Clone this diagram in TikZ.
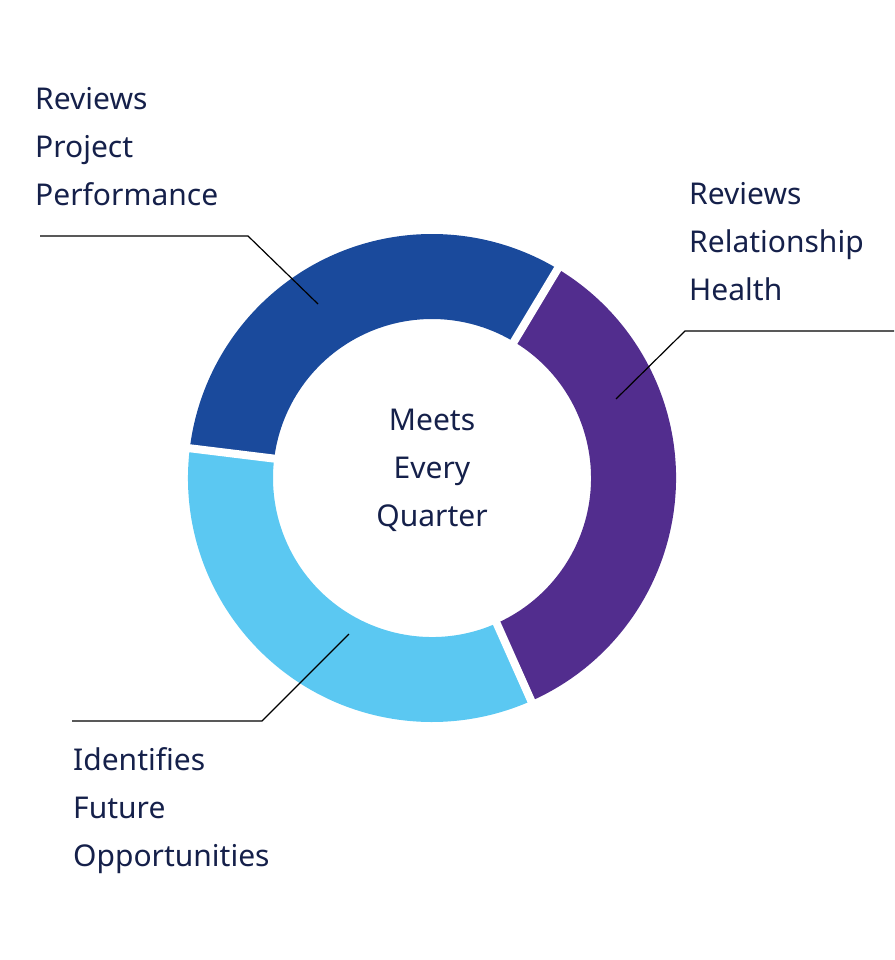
\documentclass[tikz,border=0pt]{standalone}
\usepackage{fontspec}
\setmainfont{Noto Sans}
\usetikzlibrary{calc}
\definecolor{txt}{HTML}{15204A}
\definecolor{dblue}{HTML}{1A4A9C}
\definecolor{purp}{HTML}{522D8E}
\definecolor{lblue}{HTML}{5BC8F2}
\begin{document}
\begin{tikzpicture}[x=1pt,y=-1pt,
  lbl/.style={inner sep=0pt,align=left,text=txt,font=\fontsize{30}{48}\selectfont},
  lead/.style={line width=1.2pt,black}]
\useasboundingbox (0,0) rectangle (894,960);
\coordinate (c) at (432,478);
\def\R{244}\def\r{159}
\newcommand{\seg}[3]{\fill[#1] ($(c)+(#2:\R)$) arc[start angle=#2,end angle=#3,radius=\R] -- ($(c)+(#3:\r)$) arc[start angle=#3,end angle=#2,radius=\r] -- cycle;}
\seg{dblue}{-59}{-173}
\seg{lblue}{-173}{-294}
\seg{purp}{-294}{-419}
\foreach \a in {-59,-173,-294}
  \draw[white,line width=8pt] ($(c)+(\a:\r-5)$) -- ($(c)+(\a:\R+5)$);
\node[lbl,align=center,anchor=north] (ctr) at (432,409) {Meets\\Every\\Quarter};
\node[lbl,anchor=north west] (tl) at (35,87) {Reviews\\Project\\Performance};
\node[lbl,anchor=north west] (rt) at (689,182) {Reviews\\Relationship\\Health};
\node[lbl,anchor=north west] (bl) at (73,747) {Identifies\\Future\\Opportunities};
\coordinate (a1) at (40,236); \coordinate (a2) at (248,236); \coordinate (a3) at (318,304);
\coordinate (b1) at (894,331); \coordinate (b2) at (685,331); \coordinate (b3) at (616,399);
\coordinate (d1) at (72,721); \coordinate (d2) at (262,721); \coordinate (d3) at (349,634);
\draw[lead] (a1) -- (a2) -- (a3);
\draw[lead] (b1) -- (b2) -- (b3);
\draw[lead] (d1) -- (d2) -- (d3);
\end{tikzpicture}
\end{document}
